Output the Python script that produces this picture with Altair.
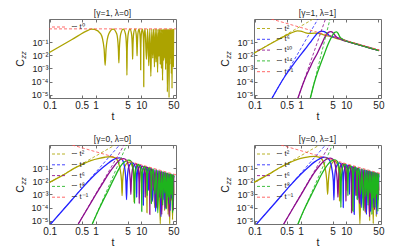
import altair as alt
import pandas as pd

FONT = "Liberation Sans"
OLIVE, BLUE, PURPLE, GREEN, RED = "#aca300", "#2323ff", "#8c0c8c", "#1eb41e", "#ff4d4d"

T_DOMAIN = [0.0966, 57.0]
C_DOMAIN = [5.6e-6, 5.62]
X_TICKS = [0.1, 0.5, 1, 5, 10, 50]
Y_TICKS = [1e-5, 1e-4, 1e-3, 1e-2, 1e-1]

titles = ["[γ=1, λ=0]", "[γ=1, λ=1]", "[γ=0, λ=0]", "[γ=0, λ=1]"]
legend_p1 = ["∼ t⁰"]
legend_p2 = ["∼ t²", "∼ t⁶", "∼ t¹⁰", "∼ t¹⁴", "∼ t⁻¹"]
legend_p34 = ["∼ t²", "∼ t⁴", "∼ t⁶", "∼ t⁸", "∼ t⁻¹"]

# ---------------- panel 1 : gamma=1, lambda=0 ----------------
p1_olive = [(0.0966, 0.0155), (0.3, 0.148), (0.7, 0.8), (0.8, 0.96), (0.95, 0.9),
            (1.3, 0.42), (1.54, 0.03), (1.62, 1.7e-3), (1.7, 0.03), (1.95, 0.42), (2.42, 0.96),
            (2.9, 0.42), (3.15, 0.03), (3.23, 2.6e-3), (3.31, 0.03), (3.55, 0.42), (4.03, 0.96),
            (4.5, 0.42), (4.76, 0.03), (4.84, 3e-4), (4.92, 0.03), (5.17, 0.42), (5.64, 0.96),
            (6.1, 0.42), (6.37, 0.03), (6.45, 5e-3), (6.53, 0.03), (6.78, 0.42), (7.25, 0.96),
            (7.7, 0.42), (7.98, 0.03), (8.06, 9e-3), (8.14, 0.03), (8.4, 0.42), (8.86, 0.96),
            (9.3, 0.42), (9.6, 0.03), (9.67, 7.6e-4), (9.74, 0.03), (10.0, 0.42), (10.47, 0.96),
            (10.95, 0.42), (11.22, 0.03), (11.28, 4e-5), (11.34, 0.03), (11.6, 0.42), (12.08, 0.96),
            (12.89, 5e-3), (13.7, 0.96), (14.5, 1.6e-3), (15.3, 0.96), (16.1, 2.5e-4), (16.9, 0.96),
            (17.7, 6e-3), (18.5, 0.96), (19.3, 1.3e-3), (20.1, 0.96), (20.9, 3e-3), (21.7, 0.96),
            (22.6, 5e-4), (23.4, 0.96), (24.2, 8e-3), (25.0, 0.96), (25.8, 2e-3), (26.6, 0.96),
            (27.4, 1e-3), (28.2, 0.96), (29.0, 1.2e-4), (29.8, 0.96), (30.6, 4e-3), (31.4, 0.96),
            (32.2, 6e-3), (33.0, 0.96), (33.8, 8e-4), (34.6, 0.96), (35.4, 2.5e-3), (36.2, 0.96),
            (37.0, 1.6e-5), (37.8, 0.96), (38.6, 5e-3), (39.4, 0.96), (40.2, 6e-6), (41.0, 0.96),
            (41.8, 2e-3), (42.6, 0.96), (43.5, 6e-3), (44.3, 0.96), (45.1, 4e-4), (45.9, 0.96),
            (46.7, 3e-5), (47.5, 0.96), (48.3, 3e-3), (49.1, 0.96), (49.9, 1.3e-3), (50.7, 0.96)]
p1_ref_t0 = [(0.0966, 1.0), (57.0, 1.0)]

# ---------------- panel 2 : gamma=1, lambda=1 ----------------
p2_olive = [(0.0966, 0.014), (0.3, 0.13), (0.6, 0.45), (0.85, 0.7), (1.0, 0.68), (1.3, 0.5),
            (1.6, 0.45), (2.0, 0.47), (2.4, 0.46), (3.0, 0.38), (3.6, 0.3), (4.3, 0.28),
            (5.0, 0.24), (6.0, 0.19), (7.0, 0.165), (8.5, 0.135), (10, 0.115), (14, 0.083),
            (20, 0.058), (30, 0.039), (40, 0.029), (51, 0.0228)]
p2_blue = [(0.24, 5.6e-6), (0.45, 2.3e-4), (0.75, 2.8e-3), (1.24, 0.027), (1.6, 0.085),
           (1.9, 0.19), (2.4, 0.5), (2.88, 0.68), (3.3, 0.62), (3.7, 0.48), (4.3, 0.3),
           (4.8, 0.26), (5.5, 0.24), (6.5, 0.2), (8, 0.15), (10, 0.118), (14, 0.083),
           (20, 0.058), (30, 0.039), (40, 0.029), (51, 0.0228)]
p2_purple = [(0.88, 5.6e-6), (1.24, 1.5e-4), (1.6, 1.1e-3), (1.9, 4e-3), (2.3, 0.013),
             (2.64, 0.036), (3.0, 0.09), (3.4, 0.24), (4.0, 0.52), (4.6, 0.62), (5.1, 0.5),
             (5.5, 0.36), (6.0, 0.25), (6.6, 0.2), (7.5, 0.19), (8.5, 0.14), (10, 0.116),
             (14, 0.082), (20, 0.057), (30, 0.038), (40, 0.029), (51, 0.0226)]
p2_green = [(1.64, 5.6e-6), (2.05, 1.1e-4), (2.4, 6e-4), (2.88, 3.5e-3), (3.3, 0.012),
            (3.7, 0.035), (4.2, 0.1), (4.8, 0.26), (5.3, 0.45), (5.65, 0.55), (6.1, 0.6),
            (6.6, 0.45), (7.0, 0.3), (7.5, 0.2), (8.2, 0.17), (9, 0.14), (10, 0.12),
            (14, 0.083), (20, 0.057), (30, 0.038), (40, 0.029), (51, 0.0225)]
p2_ref_t2 = [(0.0966, 0.0145), (1.9, 5.62)]
p2_ref_t6 = [(0.24, 5.6e-6), (2.4, 5.62)]
p2_ref_t10 = [(0.88, 5.6e-6), (3.5, 5.62)]
p2_ref_t14 = [(1.64, 5.6e-6), (4.4, 5.62)]
p2_ref_tm1 = [(0.23, 5.62), (57.0, 0.0227)]

# ---------------- panel 3 : gamma=0, lambda=0 ----------------
p3_olive = [(0.0966, 0.0078), (0.2, 0.03), (0.34, 0.095), (0.5, 0.18), (0.79, 0.37), (1.2, 0.55),
            (1.6, 0.66), (2.1, 0.72), (2.6, 0.62), (3.0, 0.4), (3.4, 0.1), (3.7, 0.01),
            (3.8, 8e-4), (3.9, 0.01), (4.3, 0.12), (5.4, 0.28), (6.4, 0.12), (6.85, 0.01),
            (6.95, 2.5e-4), (7.05, 0.01), (7.5, 0.09), (8.5, 0.17), (9.6, 0.07), (10.0, 0.006),
            (10.1, 1e-3), (10.2, 0.006), (10.7, 0.06), (11.7, 0.125), (12.75, 0.05), (13.15, 0.004),
            (13.25, 4e-5), (13.35, 0.004), (13.8, 0.05), (14.8, 0.098), (16.4, 5e-4), (18.0, 0.08),
            (19.55, 1e-4), (21.1, 0.069), (22.7, 3e-4), (24.3, 0.06), (25.85, 5.8e-6), (27.4, 0.053),
            (29.0, 6e-4), (30.6, 0.047), (32.1, 6e-5), (33.7, 0.043), (35.3, 2e-4), (36.8, 0.039),
            (38.4, 3e-5), (40.0, 0.036), (41.6, 5.8e-6), (43.1, 0.034), (44.7, 4e-4), (46.3, 0.031),
            (47.9, 1.2e-5), (49.5, 0.029), (51.0, 1e-3)]
p3_blue = [(0.105, 5.6e-6), (0.3, 3.6e-4), (0.6, 5.5e-3), (1.0, 0.035), (1.4, 0.1), (1.8, 0.2),
           (2.3, 0.38), (2.8, 0.55), (3.3, 0.6), (3.8, 0.45), (4.3, 0.12), (4.6, 0.01),
           (4.75, 4e-4), (4.9, 0.01), (5.3, 0.12), (6.3, 0.26), (7.4, 0.12), (7.8, 0.01),
           (7.9, 6e-4), (8.0, 0.01), (8.4, 0.08), (9.5, 0.16), (10.6, 0.06), (10.95, 0.005),
           (11.05, 1.5e-4), (11.15, 0.005), (11.6, 0.05), (12.6, 0.12), (13.8, 0.05), (14.1, 0.004),
           (14.2, 2e-3), (14.3, 0.004), (14.8, 0.04), (15.8, 0.095), (17.35, 3e-4), (18.9, 0.077),
           (20.5, 5e-5), (22.1, 0.066), (23.6, 1e-3), (25.2, 0.058), (26.8, 2e-5), (28.3, 0.051),
           (29.9, 4e-4), (31.5, 0.046), (33.1, 8e-5), (34.6, 0.042), (36.2, 1e-3), (37.8, 0.038),
           (39.3, 2e-4), (40.9, 0.035), (42.5, 6e-5), (44.0, 0.033), (45.6, 5e-4), (47.2, 0.031),
           (48.8, 1.5e-4), (50.3, 0.029), (51.0, 0.02)]
p3_purple = [(0.42, 5.6e-6), (0.7, 1.1e-4), (1.0, 9e-4), (1.5, 9e-3), (2.0, 0.045), (2.5, 0.13),
             (3.0, 0.28), (3.5, 0.45), (4.1, 0.52), (4.7, 0.4), (5.3, 0.12), (5.75, 0.01),
             (5.9, 1e-3), (6.05, 0.01), (6.5, 0.1), (7.5, 0.21), (8.5, 0.1), (8.9, 0.008),
             (9.0, 2e-4), (9.1, 0.008), (9.5, 0.07), (10.6, 0.14), (11.7, 0.06), (12.05, 0.006),
             (12.15, 6e-4), (12.25, 0.006), (12.7, 0.05), (13.7, 0.11), (14.8, 0.05), (15.2, 0.004),
             (15.3, 3e-5), (15.4, 0.004), (15.9, 0.04), (16.9, 0.09), (18.45, 2e-3), (20.0, 0.074),
             (21.6, 1e-4), (23.2, 0.064), (24.7, 6e-4), (26.3, 0.056), (27.9, 3e-5), (29.4, 0.05),
             (31.0, 2e-3), (32.6, 0.045), (34.2, 1e-4), (35.7, 0.041), (37.3, 8e-4), (38.9, 0.037),
             (40.5, 2e-5), (42.0, 0.034), (43.6, 3e-4), (45.2, 0.032), (46.7, 1e-3), (48.3, 0.03),
             (49.9, 6e-5), (51.0, 0.028)]
p3_green = [(0.85, 5.6e-6), (1.2, 8e-5), (1.5, 4e-4), (1.83, 1.5e-3), (2.2, 6e-3), (2.7, 0.025),
            (3.2, 0.08), (3.8, 0.2), (4.5, 0.33), (5.3, 0.4), (6.0, 0.32), (6.6, 0.1),
            (6.95, 0.01), (7.1, 2e-4), (7.25, 0.01), (7.6, 0.08), (8.6, 0.19), (9.7, 0.09),
            (10.1, 0.008), (10.2, 5e-5), (10.3, 0.008), (10.7, 0.07), (11.8, 0.135), (12.9, 0.06),
            (13.3, 0.005), (13.4, 8e-4), (13.5, 0.005), (13.9, 0.05), (14.9, 0.105), (16.0, 0.05),
            (16.45, 0.004), (16.55, 2e-4), (16.65, 0.004), (17.1, 0.04), (18.1, 0.087), (19.7, 1e-3),
            (21.3, 0.074), (22.85, 4e-5), (24.4, 0.064), (26.0, 5e-4), (27.6, 0.057), (29.1, 1.5e-4),
            (30.7, 0.051), (32.3, 1.2e-3), (33.8, 0.046), (35.4, 8e-5), (37.0, 0.042), (38.6, 6e-4),
            (40.1, 0.039), (41.7, 2e-4), (43.3, 0.036), (44.8, 1e-3), (46.4, 0.034), (48.0, 4e-5),
            (49.5, 0.032), (51.0, 0.02)]
p3_ref_t2 = [(0.0966, 0.0075), (2.65, 5.62)]
p3_ref_t4 = [(0.105, 5.6e-6), (3.34, 5.62)]
p3_ref_t6 = [(0.42, 5.6e-6), (4.2, 5.62)]
p3_ref_t8 = [(0.85, 5.6e-6), (4.78, 5.62)]
p3_ref_tm1 = [(0.31, 5.62), (57.0, 0.0305)]

# ---------------- panel 4 : gamma=0, lambda=1 ----------------
p4_olive = [(0.0966, 0.0082), (0.2, 0.033), (0.34, 0.1), (0.5, 0.2), (0.8, 0.42), (1.2, 0.62),
            (1.6, 0.74), (2.0, 0.78), (2.5, 0.68), (3.0, 0.42), (3.4, 0.12), (3.75, 0.01),
            (3.9, 1e-3), (4.05, 0.01), (4.5, 0.13), (5.5, 0.33), (6.6, 0.14), (7.0, 0.012),
            (7.1, 3e-4), (7.2, 0.012), (7.7, 0.1), (8.7, 0.2), (9.8, 0.08), (10.2, 0.007),
            (10.3, 2e-3), (10.4, 0.007), (10.9, 0.07), (11.9, 0.15), (12.9, 0.06), (13.35, 0.005),
            (13.45, 6e-5), (13.55, 0.005), (14.0, 0.06), (15.0, 0.12), (16.6, 8e-4), (18.2, 0.1),
            (19.75, 5.8e-6), (21.3, 0.085), (22.9, 5e-4), (24.5, 0.075), (26.0, 4e-5), (27.6, 0.066),
            (29.2, 1e-3), (30.8, 0.06), (32.3, 1e-5), (33.9, 0.054), (35.5, 3e-4), (37.0, 0.05),
            (38.6, 6e-6), (40.2, 0.046), (41.8, 8e-4), (43.3, 0.043), (44.9, 2e-5), (46.5, 0.04),
            (48.0, 3e-4), (49.6, 0.038), (51.0, 2e-3)]
p4_blue = [(0.11, 5.6e-6), (0.3, 3e-4), (0.6, 4.8e-3), (1.0, 0.032), (1.5, 0.12), (2.0, 0.28),
           (2.6, 0.5), (3.2, 0.66), (3.7, 0.62), (4.3, 0.4), (4.8, 0.1), (5.2, 0.01),
           (5.35, 3.7e-4), (5.5, 0.01), (5.9, 0.1), (7.0, 0.25), (8.1, 0.11), (8.45, 0.01),
           (8.55, 1e-4), (8.65, 0.01), (9.1, 0.08), (10.1, 0.17), (11.2, 0.07), (11.6, 0.006),
           (11.7, 1e-3), (11.8, 0.006), (12.3, 0.06), (13.3, 0.13), (14.4, 0.055), (14.75, 0.005),
           (14.85, 3e-5), (14.95, 0.005), (15.4, 0.05), (16.4, 0.105), (18.0, 5e-4), (19.6, 0.088),
           (21.15, 1e-4), (22.7, 0.078), (24.3, 1.5e-3), (25.9, 0.07), (27.4, 3e-5), (29.0, 0.063),
           (30.6, 6e-4), (32.1, 0.057), (33.7, 5e-5), (35.3, 0.052), (36.9, 1e-3), (38.4, 0.048),
           (40.0, 1e-4), (41.6, 0.045), (43.1, 7e-4), (44.7, 0.042), (46.3, 3e-5), (47.8, 0.039),
           (49.4, 4e-4), (51.0, 0.036)]
p4_purple = [(0.43, 5.6e-6), (0.7, 1e-4), (1.0, 8e-4), (1.5, 9e-3), (2.0, 0.045), (2.6, 0.15),
             (3.2, 0.33), (3.8, 0.5), (4.5, 0.56), (5.2, 0.43), (5.8, 0.13), (6.35, 0.01),
             (6.55, 6e-4), (6.75, 0.01), (7.2, 0.1), (8.2, 0.22), (9.3, 0.1), (9.7, 0.008),
             (9.8, 3e-4), (9.9, 0.008), (10.4, 0.07), (11.4, 0.16), (12.5, 0.07), (12.9, 0.006),
             (13.0, 4e-5), (13.1, 0.006), (13.5, 0.06), (14.5, 0.12), (15.6, 0.055), (16.0, 0.005),
             (16.1, 8e-4), (16.2, 0.005), (16.7, 0.05), (17.7, 0.1), (19.3, 2e-4), (20.9, 0.085),
             (22.4, 1.2e-3), (24.0, 0.075), (25.6, 5e-5), (27.2, 0.067), (28.7, 8e-4), (30.3, 0.06),
             (31.9, 2e-5), (33.5, 0.055), (35.0, 4e-4), (36.6, 0.05), (38.2, 1.5e-3), (39.7, 0.047),
             (41.3, 7e-5), (42.9, 0.044), (44.5, 6e-4), (46.0, 0.041), (47.6, 2e-4), (49.2, 0.038),
             (50.8, 1e-3)]
p4_green = [(0.88, 5.6e-6), (1.2, 7e-5), (1.5, 3.5e-4), (1.9, 1.8e-3), (2.3, 7e-3), (2.8, 0.028),
            (3.4, 0.09), (4.0, 0.2), (4.7, 0.34), (5.5, 0.42), (6.2, 0.35), (6.9, 0.12),
            (7.45, 0.01), (7.6, 1e-4), (7.75, 0.01), (8.2, 0.09), (9.2, 0.2), (10.3, 0.09),
            (10.7, 0.008), (10.8, 8e-4), (10.9, 0.008), (11.3, 0.07), (12.4, 0.145), (13.5, 0.065),
            (13.9, 0.006), (14.0, 5e-5), (14.1, 0.006), (14.6, 0.06), (15.6, 0.12), (16.7, 0.055),
            (17.1, 0.005), (17.2, 4e-4), (17.3, 0.005), (17.7, 0.05), (18.8, 0.1), (20.4, 1e-3),
            (21.9, 0.087), (23.5, 6e-5), (25.1, 0.076), (26.6, 7e-4), (28.2, 0.068), (29.8, 1.5e-4),
            (31.4, 0.061), (32.9, 1.2e-3), (34.5, 0.055), (36.1, 3e-5), (37.7, 0.051), (39.2, 5e-4),
            (40.8, 0.047), (42.4, 1e-4), (44.0, 0.044), (45.5, 1e-3), (47.1, 0.041), (48.7, 5e-5),
            (50.3, 0.038), (51.0, 0.02)]
p4_ref_t2 = [(0.0966, 0.0078), (2.6, 5.62)]
p4_ref_t4 = [(0.11, 5.6e-6), (3.5, 5.62)]
p4_ref_t6 = [(0.43, 5.6e-6), (4.3, 5.62)]
p4_ref_t8 = [(0.88, 5.6e-6), (4.95, 5.62)]
p4_ref_tm1 = [(0.375, 5.62), (57.0, 0.037)]

# ---------------- building blocks ----------------
W, H = 127, 79
ONE = pd.DataFrame({"k": [0]})

Y_LABEL_EXPR = ("'10' + ['⁰','⁻¹','⁻²','⁻³','⁻⁴','⁻⁵'][round(-log(datum.value)/LN10)]")

X_SCALE = alt.Scale(type="log", domain=T_DOMAIN, nice=False)
Y_SCALE = alt.Scale(type="log", domain=C_DOMAIN, nice=False)

AX_BOTTOM = alt.Axis(orient="bottom", values=X_TICKS, format="~g", title="t", grid=False,
                     domain=False, tickSize=3, offset=-3, labelPadding=2, titlePadding=1,
                     labelFontSize=10, labelFlush=False, labelOverlap=False)
AX_LEFT = alt.Axis(orient="left", values=Y_TICKS, labelExpr=Y_LABEL_EXPR, title=None,
                   grid=False, domain=False, tickSize=3, offset=-3, labelPadding=1,
                   labelFontSize=9, labelFlush=False, labelOverlap=False)
AX_TOP = alt.Axis(orient="top", values=X_TICKS, labels=False, title=None, grid=False,
                  domain=False, tickSize=3, offset=-3)
AX_RIGHT = alt.Axis(orient="right", values=Y_TICKS, labels=False, title=None, grid=False,
                    domain=False, tickSize=3, offset=-3)


def curve(points, color, dashed=False, axes=(None, None)):
    df = pd.DataFrame(points, columns=["t", "c"])
    if dashed:
        mk = alt.Chart(df).mark_line(clip=True, color=color, strokeWidth=1.0, opacity=0.8,
                                     strokeDash=[3, 2])
    else:
        mk = alt.Chart(df).mark_line(clip=True, color=color, strokeWidth=1.3,
                                     strokeJoin="round", interpolate="monotone")
    return mk.encode(x=alt.X("t:Q", scale=X_SCALE, axis=axes[0]),
                     y=alt.Y("c:Q", scale=Y_SCALE, axis=axes[1]))


def mirror_ticks(points):
    df = pd.DataFrame(points, columns=["t", "c"])
    return alt.Chart(df).mark_line(opacity=0).encode(
        x=alt.X("t:Q", scale=X_SCALE, axis=AX_TOP),
        y=alt.Y("c:Q", scale=Y_SCALE, axis=AX_RIGHT))


def legend(labels, colors, top):
    layers = []
    for i, (lab, col) in enumerate(zip(labels, colors)):
        yy = top + 10.8 * i
        layers.append(alt.Chart(ONE).mark_rule(color=col, strokeWidth=1.0, opacity=0.85,
                                               strokeDash=[3, 2])
                      .encode(x=alt.value(3), x2=alt.value(18), y=alt.value(yy)))
        layers.append(alt.Chart(ONE).mark_text(align="left", baseline="middle", font=FONT,
                                               fontSize=7.5, color="#222")
                      .encode(x=alt.value(21.5), y=alt.value(yy), text=alt.value(lab)))
    return layers


def ytitle():
    return [
        alt.Chart(ONE).mark_text(angle=270, align="center", baseline="middle", font=FONT,
                                 fontSize=10.5, color="#222")
        .encode(x=alt.value(-28.5), y=alt.value(44), text=alt.value("C")),
        alt.Chart(ONE).mark_text(angle=270, align="center", baseline="middle", font=FONT,
                                 fontSize=7.5, fontStyle="italic", color="#222")
        .encode(x=alt.value(-25.5), y=alt.value(36), text=alt.value("zz")),
    ]


def panel(title, solids, dashes, leg_labels, leg_colors, leg_top):
    layers = []
    for i, (p, c) in enumerate(solids):
        layers.append(curve(p, c, axes=(AX_BOTTOM, AX_LEFT) if i == 0 else (None, None)))
    layers += [curve(p, c, dashed=True) for p, c in dashes]
    layers.append(mirror_ticks(dashes[-1][0]))
    layers += legend(leg_labels, leg_colors, leg_top)
    layers += ytitle()
    return alt.layer(*layers).resolve_axis(x="independent", y="independent").properties(
        width=W, height=H,
        title=alt.TitleParams(title, fontSize=8.5, font=FONT, fontWeight="normal",
                              color="#222", offset=1))


cols5 = [OLIVE, BLUE, PURPLE, GREEN, RED]

p1 = panel(titles[0], [(p1_olive, OLIVE)], [(p1_ref_t0, RED)], legend_p1, [RED], 8)
p2 = panel(titles[1],
           [(p2_olive, OLIVE), (p2_blue, BLUE), (p2_purple, PURPLE), (p2_green, GREEN)],
           [(p2_ref_t2, OLIVE), (p2_ref_t6, BLUE), (p2_ref_t10, PURPLE), (p2_ref_t14, GREEN),
            (p2_ref_tm1, RED)], legend_p2, cols5, 9.5)
p3 = panel(titles[2],
           [(p3_olive, OLIVE), (p3_blue, BLUE), (p3_purple, PURPLE), (p3_green, GREEN)],
           [(p3_ref_t2, OLIVE), (p3_ref_t4, BLUE), (p3_ref_t6, PURPLE), (p3_ref_t8, GREEN),
            (p3_ref_tm1, RED)], legend_p34, cols5, 9)
p4 = panel(titles[3],
           [(p4_olive, OLIVE), (p4_blue, BLUE), (p4_purple, PURPLE), (p4_green, GREEN)],
           [(p4_ref_t2, OLIVE), (p4_ref_t4, BLUE), (p4_ref_t6, PURPLE), (p4_ref_t8, GREEN),
            (p4_ref_tm1, RED)], legend_p34, cols5, 9)

chart = (
    alt.concat(p1, p2, p3, p4, columns=2, spacing={"row": 47, "column": 78}, bounds="flush")
    .properties(padding={"left": 7, "top": 0, "right": 0, "bottom": 0}, background="white")
    .configure_view(stroke="#707070", strokeWidth=1)
    .configure_axis(labelFont=FONT, titleFont=FONT, labelColor="#222", titleColor="#222",
                    tickColor="#707070", tickWidth=1, titleFontSize=10.5,
                    titleFontWeight="normal")
)

chart.save("out.html", embed_options={"renderer": "svg", "actions": False})
